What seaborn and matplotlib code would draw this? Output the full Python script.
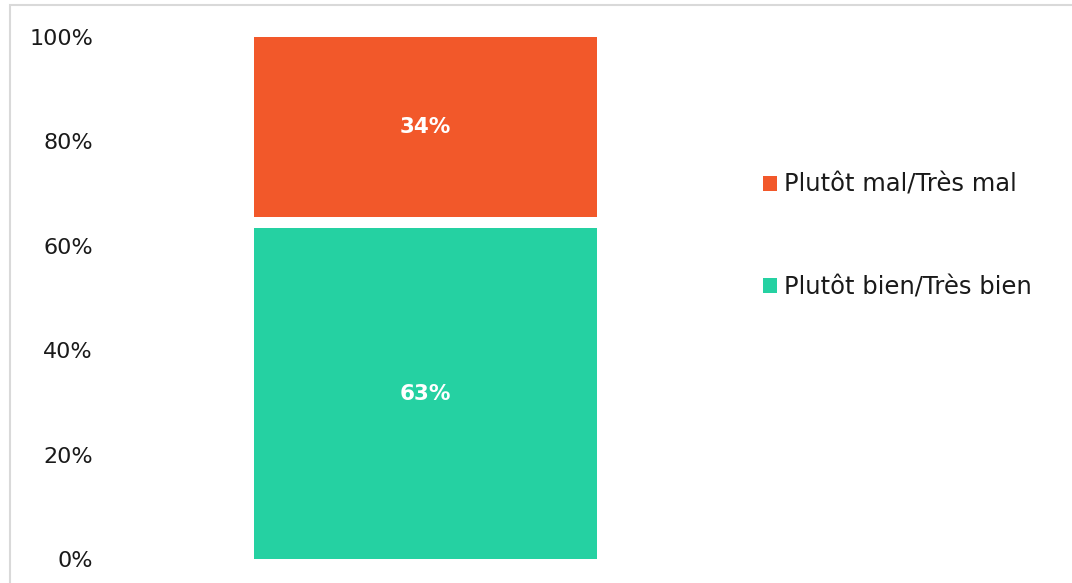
import matplotlib
matplotlib.use("Agg")
import matplotlib.pyplot as plt
import seaborn as sns
import pandas as pd
from matplotlib.patches import Rectangle, Patch

# data
categories = [""]
series = ["Plutôt bien/Très bien", "NSP", "Plutôt mal/Très mal"]
values = [63.4, 2.2, 34.4]
labels = ["63%", "", "34%"]
colors = ["#25D1A2", "#FFFFFF", "#F2582A"]
yticks = [0, 20, 40, 60, 80, 100]

FONT = "DejaVu Sans"
TXT = "#1a1a1a"

sns.set_theme(style="white")
plt.rcParams["font.family"] = [FONT]

fig = plt.figure(figsize=(10.72, 5.83), dpi=100)
ax = fig.add_axes([100 / 1072, (583 - 559) / 583, 651 / 1072, 522 / 583])

# stacked bar: draw cumulative totals from the top down
cum = pd.Series(values).cumsum()
for i in reversed(range(len(series))):
    df = pd.DataFrame({"cat": categories, "val": [cum[i]]})
    sns.barplot(data=df, x="cat", y="val", color=colors[i], saturation=1,
                width=343 / 651, ax=ax, linewidth=0)

# data labels
for i, lab in enumerate(labels):
    if lab:
        mid = cum[i] - values[i] / 2
        ax.text(0, mid, lab, ha="center", va="center", color="white",
                fontsize=15.5, fontweight="bold")

ax.set_xlim(-0.5, 0.5)
ax.set_ylim(0, 100)
ax.set_yticks(yticks)
ax.set_yticklabels([f"{t}%" for t in yticks], fontsize=16, color=TXT)
ax.set_xticks([])
ax.set_xlabel("")
ax.set_ylabel("")
ax.tick_params(axis="y", length=0, pad=5)
for s in ax.spines.values():
    s.set_visible(False)

# legend (orange first, then teal)
handles = [Patch(facecolor=colors[2], edgecolor="none"),
           Patch(facecolor=colors[0], edgecolor="none")]
leg = fig.legend(handles, [series[2], series[0]], loc="upper left",
                 bbox_to_anchor=(741 / 1072, (583 - 151) / 583),
                 frameon=False, fontsize=17.5, handlelength=0.58,
                 handleheight=0.58, handletextpad=0.3, labelspacing=3.23)
for t in leg.get_texts():
    t.set_color(TXT)

# outer light border
fig.patches.append(Rectangle((10 / 1072, -0.02), 1.02, (583 - 5) / 583 + 0.02,
                             transform=fig.transFigure, fill=False,
                             edgecolor="#D9D9D9", linewidth=1.5))

fig.savefig("out.png", dpi=100)
